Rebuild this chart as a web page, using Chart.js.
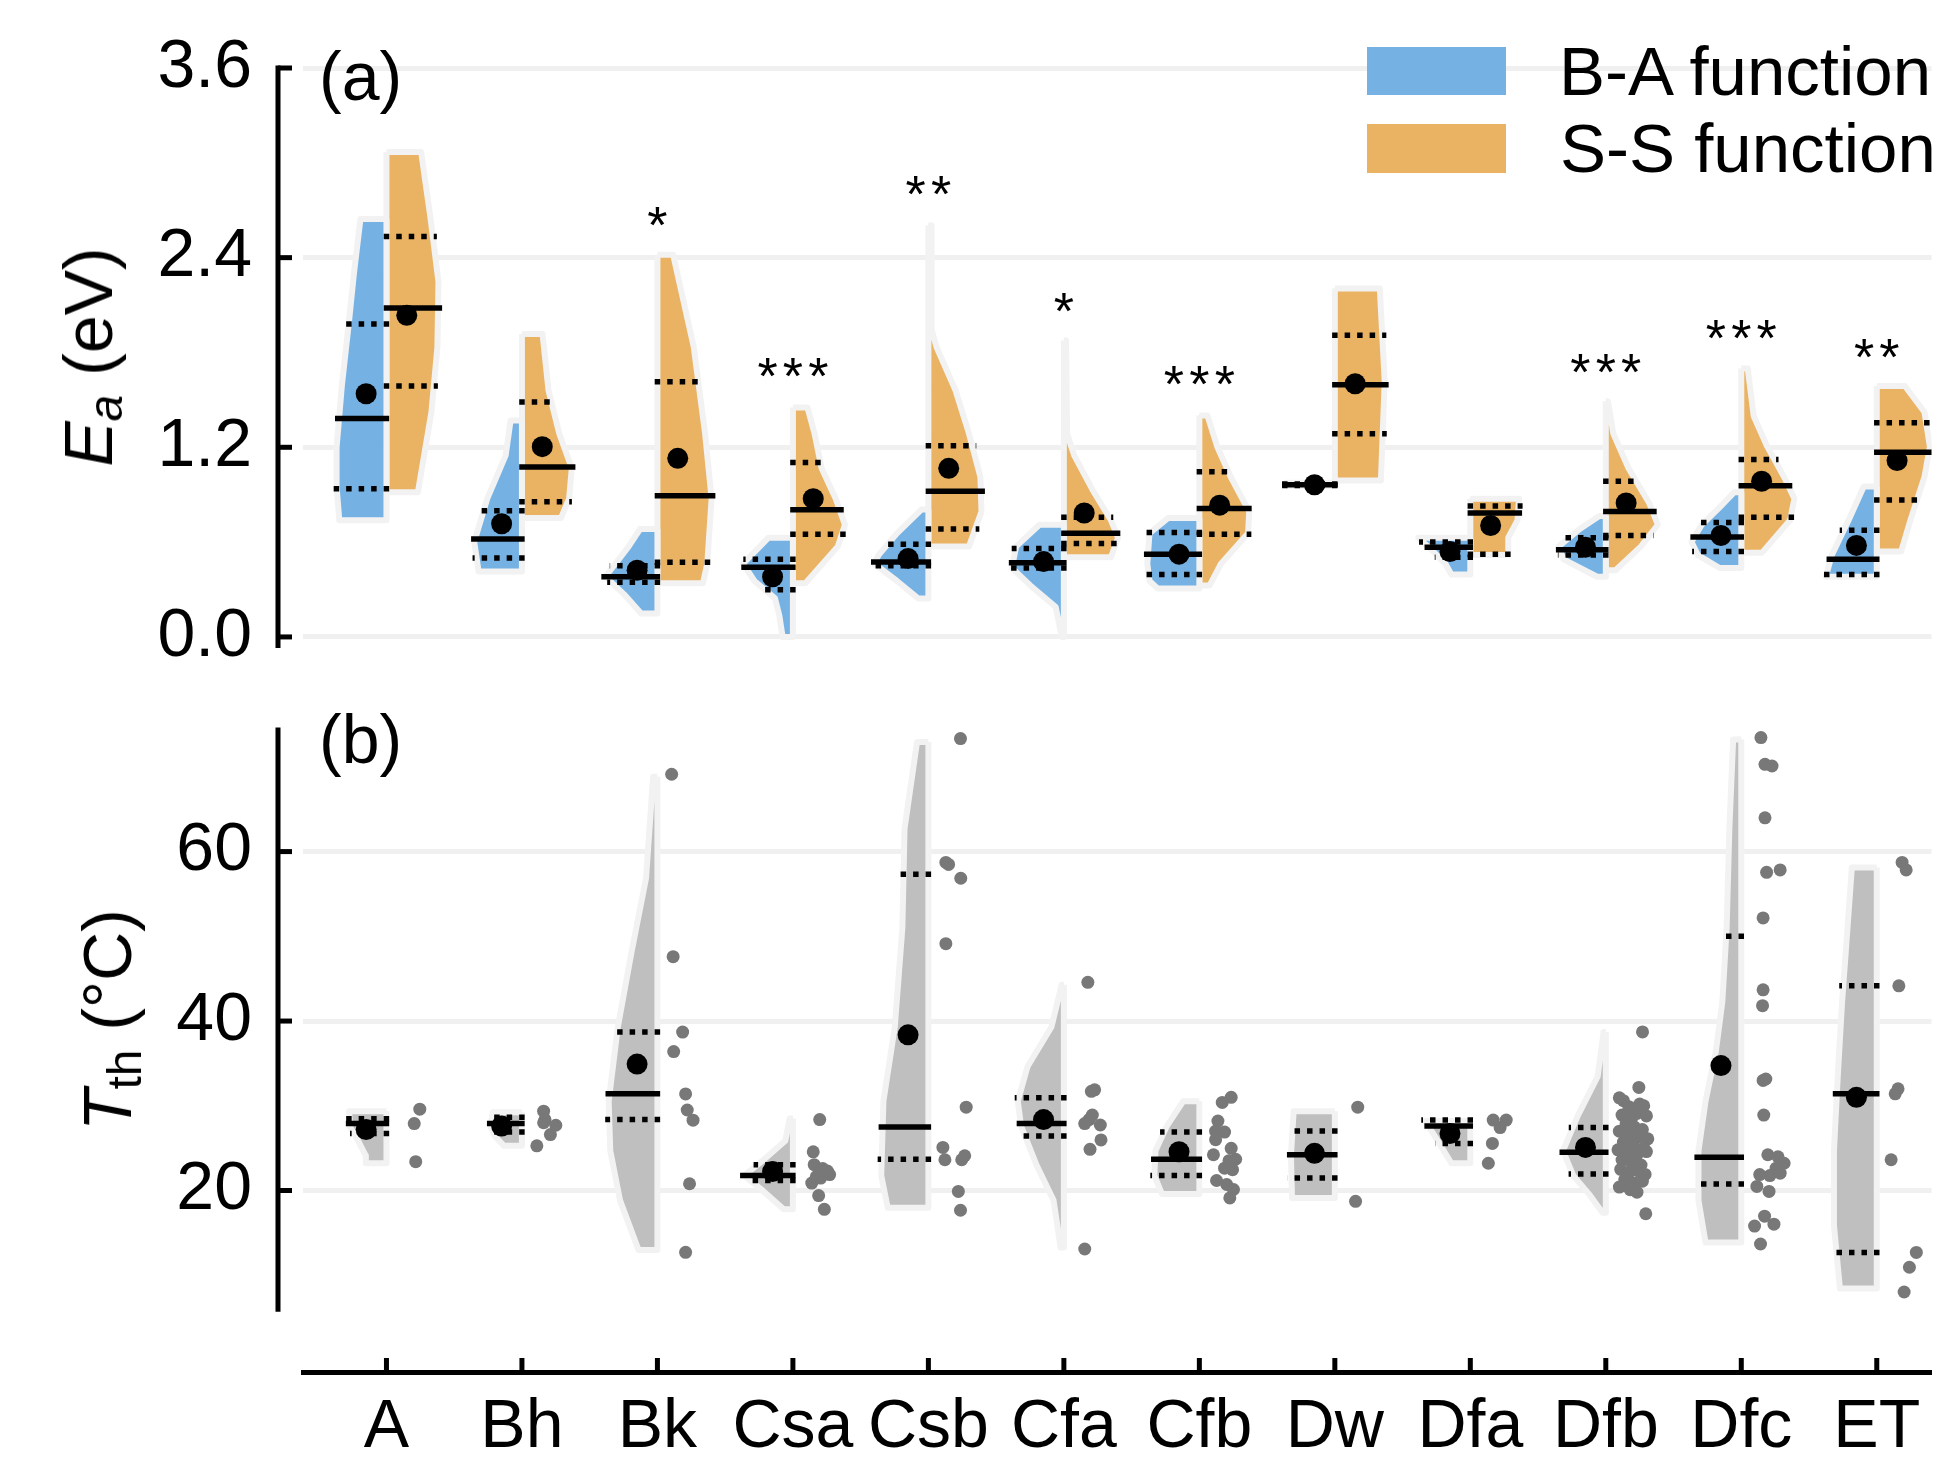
<!DOCTYPE html>
<html>
<head>
<meta charset="utf-8">
<script src="https://cdn.jsdelivr.net/npm/chart.js@4.4.0/dist/chart.umd.min.js"></script>
<style>
html, body { margin: 0; padding: 0; background: #fff; }
#wrap { position: relative; width: 1942px; height: 1457px; overflow: hidden; font-family: 'Liberation Sans', Arial, sans-serif; color: #000; }
canvas { position: absolute; left: 0; top: 0; }
.txt { position: absolute; font-size: 68px; line-height: 1; white-space: nowrap; }
.lg { font-size: 69px; }
.box { position: absolute; }
.ytitle { position: absolute; font-size: 68px; line-height: 1; white-space: nowrap; transform: translate(-50%, -50%) rotate(-90deg); }
.ytitle sub { font-size: 0.7em; vertical-align: baseline; position: relative; top: 0.2em; }
</style>
</head>
<body>
<div id="wrap">
	<canvas id="tth" width="1942" height="1457"></canvas>
	<canvas id="ea" width="1942" height="1457"></canvas>
	<div class="txt" style="left:319px;top:42px">(a)</div>
	<div class="txt" style="left:319px;top:705px">(b)</div>
	<div class="box" style="left:1367px;top:47px;width:139px;height:48px;background:#75b2e3"></div>
	<div class="box" style="left:1367px;top:124px;width:139px;height:49px;background:#eab363"></div>
	<div class="txt lg" style="left:1559px;top:37px">B-A function</div>
	<div class="txt lg" style="left:1560px;top:114px">S-S function</div>
	<div class="ytitle" style="left:88px;top:357px"><i>E</i><sub><i>a</i></sub> (eV)</div>
	<div class="ytitle" style="left:107px;top:1020px"><i>T</i><sub>th</sub> (°C)</div>
</div>
<script>
const categories = ['A', 'Bh', 'Bk', 'Csa', 'Csb', 'Cfa', 'Cfb', 'Dw', 'Dfa', 'Dfb', 'Dfc', 'ET'];
const eaTicks = [0, 1.2, 2.4, 3.6];
const tthTicks = [20, 40, 60];

// (a) B-A function, half violins: [value, relative width]
const baProfiles = [
	[[2.644, 0.48], [2.30, 0.60], [2.00, 0.69], [1.60, 0.82], [1.20, 0.92], [0.95, 0.92], [0.738, 0.87]],
	[[1.369, 0.21], [1.149, 0.30], [0.875, 0.64], [0.601, 0.88], [0.414, 0.80]],
	[[0.683, 0.32], [0.573, 0.53], [0.381, 0.96], [0.271, 0.62], [0.148, 0.30]],
	[[0.628, 0.45], [0.463, 0.92], [0.354, 0.71], [0.244, 0.33], [0.134, 0.25], [0.0, 0.19]],
	[[0.806, 0.13], [0.655, 0.58], [0.518, 0.92], [0.463, 1.0], [0.354, 0.58], [0.244, 0.19]],
	[[0.710, 0.45], [0.573, 0.88], [0.436, 0.96], [0.326, 0.62], [0.189, 0.15], [0.0, 0.04]],
	[[0.752, 0.58], [0.656, 0.92], [0.463, 0.96], [0.354, 0.92], [0.307, 0.77]],
	[[0.975, 0.9], [0.955, 0.9]],
	[[0.628, 0.96], [0.546, 0.70], [0.463, 0.46], [0.395, 0.35]],
	[[0.765, 0.12], [0.683, 0.48], [0.573, 0.87], [0.491, 0.78], [0.381, 0.16]],
	[[0.916, 0.13], [0.820, 0.40], [0.710, 0.73], [0.601, 0.92], [0.518, 0.80], [0.436, 0.40]],
	[[0.952, 0.24], [0.738, 0.52], [0.518, 0.83], [0.381, 0.94]]
];
const baMedian = [1.382, 0.620, 0.381, 0.441, 0.474, 0.469, 0.524, 0.963, 0.568, 0.551, 0.633, 0.491];
const baQ3 = [1.98, 0.798, 0.45, 0.491, 0.587, 0.560, 0.661, 0.968, 0.60, 0.628, 0.724, 0.675];
const baQ1 = [0.938, 0.499, 0.346, 0.299, 0.45, 0.436, 0.395, 0.958, 0.505, 0.518, 0.540, 0.395];
const baMean = [1.539, 0.716, 0.422, 0.381, 0.496, 0.477, 0.524, 0.963, 0.540, 0.568, 0.642, 0.579];

// (a) S-S function
const ssProfiles = [
	[[3.069, 0.64], [2.658, 0.81], [2.246, 0.96], [1.835, 0.94], [1.423, 0.83], [0.916, 0.58]],
	[[1.917, 0.38], [1.561, 0.49], [1.286, 0.69], [1.067, 0.92], [0.875, 0.87], [0.752, 0.72]],
	[[2.419, 0.29], [1.835, 0.67], [1.286, 0.88], [0.875, 1.0], [0.463, 0.92], [0.340, 0.84]],
	[[1.451, 0.27], [1.286, 0.40], [1.067, 0.53], [0.875, 0.79], [0.710, 0.96], [0.573, 0.83], [0.340, 0.23]],
	[[2.603, 0.05], [1.945, 0.06], [1.835, 0.15], [1.561, 0.50], [1.286, 0.75], [1.012, 0.96], [0.793, 0.98], [0.573, 0.75]],
	[[1.876, 0.04], [1.286, 0.06], [1.149, 0.19], [0.930, 0.53], [0.738, 0.87], [0.628, 1.0], [0.505, 0.87]],
	[[1.401, 0.15], [1.204, 0.33], [1.012, 0.58], [0.793, 0.92], [0.656, 0.90], [0.463, 0.40], [0.326, 0.19]],
	[[2.205, 0.83], [1.615, 0.92], [0.990, 0.85]],
	[[0.875, 0.90], [0.738, 0.87], [0.628, 0.70], [0.518, 0.70]],
	[[1.492, 0.04], [1.286, 0.14], [1.067, 0.42], [0.848, 0.80], [0.710, 0.96], [0.573, 0.65], [0.422, 0.18]],
	[[1.698, 0.12], [1.396, 0.23], [1.204, 0.48], [1.012, 0.79], [0.875, 0.98], [0.738, 0.90], [0.532, 0.38]],
	[[1.588, 0.52], [1.423, 0.88], [1.204, 0.98], [1.012, 0.88], [0.738, 0.62], [0.540, 0.45]]
];
const ssMedian = [2.082, 1.075, 0.894, 0.804, 0.922, 0.656, 0.812, 1.596, 0.784, 0.793, 0.957, 1.168];
const ssQ3 = [2.534, 1.487, 1.615, 1.103, 1.209, 0.757, 1.045, 1.909, 0.828, 0.985, 1.122, 1.355];
const ssQ1 = [1.588, 0.856, 0.472, 0.650, 0.683, 0.592, 0.650, 1.286, 0.524, 0.642, 0.757, 0.867];
const ssMean = [2.035, 1.204, 1.130, 0.875, 1.067, 0.784, 0.834, 1.602, 0.705, 0.848, 0.985, 1.116];

const starText = ['', '', '*', '***', '**', '*', '***', '', '', '***', '***', '**'];
const starLevel = [0, 0, 2.685, 1.727, 2.878, 2.138, 1.679, 0, 0, 1.752, 1.967, 1.849];

// (b) threshold temperature
const tthProfiles = [
	[[29.36, 0.69], [27.5, 0.67], [26.44, 0.57], [24.1, 0.38], [23.22, 0.38]],
	[[29.25, 0.54], [27.5, 0.58], [26.4, 0.50], [25.27, 0.33]],
	[[68.84, 0.08], [56.85, 0.21], [48.08, 0.48], [39.3, 0.73], [30.53, 0.90], [24.68, 0.87], [18.84, 0.69], [12.99, 0.35]],
	[[28.49, 0.06], [25.86, 0.14], [23.52, 0.56], [21.76, 0.90], [20.01, 0.56], [17.78, 0.17]],
	[[72.93, 0.21], [62.70, 0.44], [51.0, 0.48], [39.3, 0.62], [30.53, 0.83], [21.76, 0.87], [17.96, 0.75]],
	[[44.28, 0.04], [39.3, 0.23], [34.63, 0.67], [30.53, 0.85], [27.61, 0.79], [22.93, 0.50], [18.84, 0.19], [13.28, 0.06]],
	[[30.53, 0.30], [27.61, 0.60], [24.68, 0.81], [21.76, 0.83], [19.6, 0.69]],
	[[29.36, 0.76], [24.1, 0.81], [19.13, 0.79]],
	[[28.19, 0.83], [25.86, 0.60], [23.22, 0.35]],
	[[38.72, 0.04], [33.46, 0.15], [28.78, 0.52], [24.68, 0.79], [21.76, 0.60], [19.42, 0.29], [17.37, 0.06]],
	[[73.22, 0.15], [62.7, 0.22], [51.0, 0.27], [42.23, 0.35], [36.38, 0.47], [30.53, 0.66], [24.68, 0.79], [18.84, 0.79], [13.87, 0.66]],
	[[58.13, 0.46], [51.0, 0.54], [42.23, 0.64], [33.46, 0.72], [24.68, 0.79], [15.91, 0.79], [8.43, 0.68]]
];
const tthMedian = [27.9, 27.9, 31.41, 21.76, 27.49, 27.9, 23.69, 24.22, 27.61, 24.51, 23.93, 31.41];
const tthQ3 = [28.48, 28.66, 38.72, 23.05, 57.32, 30.94, 26.91, 27.02, 28.31, 27.43, 50.01, 44.16];
const tthQ1 = [26.73, 26.91, 28.37, 21.18, 23.69, 26.44, 21.76, 21.47, 25.56, 21.94, 20.77, 12.69];
const tthMean = [27.2, 27.6, 34.92, 22.23, 38.37, 28.37, 24.57, 24.39, 26.73, 25.09, 34.74, 31.0];

// strip points: [jitter right of the category, value]
const tthPoints = [
	[[0.246, 29.6], [0.205, 27.9], [0.216, 23.4]],
	[[0.16, 29.36], [0.17, 28.37], [0.16, 28.0], [0.25, 27.7], [0.21, 26.6], [0.11, 25.27]],
	[[0.105, 69.13], [0.116, 47.6], [0.186, 38.7], [0.12, 36.4], [0.208, 31.4], [0.22, 29.5], [0.263, 28.3], [0.237, 20.8], [0.208, 12.7]],
	[[0.198, 28.37], [0.15, 24.57], [0.157, 23.05], [0.22, 22.6], [0.271, 21.88], [0.173, 21.64], [0.139, 20.88], [0.19, 19.4], [0.232, 17.78], [0.255, 22.3], [0.205, 21.47]],
	[[0.237, 73.34], [0.129, 58.72], [0.149, 58.49], [0.239, 56.85], [0.129, 49.13], [0.279, 29.83], [0.107, 25.09], [0.122, 23.63], [0.246, 23.63], [0.268, 24.1], [0.221, 19.89], [0.237, 17.67]],
	[[0.177, 44.57], [0.203, 31.7], [0.227, 31.88], [0.186, 28.37], [0.21, 28.9], [0.154, 27.9], [0.269, 27.73], [0.274, 25.97], [0.193, 24.86], [0.154, 13.1]],
	[[0.169, 30.4], [0.235, 31.0], [0.137, 28.2], [0.12, 27.0], [0.186, 26.9], [0.12, 26.0], [0.235, 24.98], [0.268, 23.69], [0.219, 23.52], [0.245, 22.46], [0.127, 21.18], [0.202, 20.71], [0.252, 20.12], [0.225, 19.13], [0.186, 22.64], [0.104, 24.22]],
	[[0.169, 29.83], [0.153, 18.72]],
	[[0.169, 28.31], [0.265, 28.31], [0.22, 27.43], [0.163, 25.56], [0.133, 23.22]],
	[[0.271, 38.72], [0.295, 17.26], [0.10, 30.94], [0.244, 32.17], [0.13, 30.6], [0.17, 29.9], [0.25, 30.2], [0.28, 30.0], [0.12, 28.9], [0.19, 28.5],
	 [0.23, 29.1], [0.30, 28.8], [0.15, 27.9], [0.21, 27.5], [0.27, 27.2], [0.10, 27.0], [0.18, 26.6], [0.24, 26.3], [0.31, 26.1], [0.13, 25.7],
	 [0.20, 25.4], [0.28, 25.0], [0.09, 24.8], [0.16, 24.4], [0.23, 24.2], [0.30, 24.6], [0.12, 23.6], [0.19, 23.3], [0.26, 23.0], [0.11, 22.5],
	 [0.17, 22.1], [0.24, 22.3], [0.29, 21.9], [0.14, 21.3], [0.21, 20.9], [0.27, 21.1], [0.10, 20.4], [0.18, 20.1], [0.23, 19.8]],
	[[0.145, 73.46], [0.175, 70.3], [0.227, 70.1], [0.175, 63.98], [0.187, 57.55], [0.287, 57.84], [0.161, 52.17], [0.161, 43.69], [0.157, 41.82], [0.161, 32.99],
	 [0.181, 33.16], [0.166, 28.9], [0.196, 24.22], [0.271, 23.98], [0.316, 23.22], [0.257, 22.64], [0.136, 21.88], [0.211, 21.76], [0.287, 22.05], [0.115, 20.48],
	 [0.205, 19.89], [0.172, 16.97], [0.098, 15.8], [0.241, 16.03], [0.142, 13.69]],
	[[0.187, 58.72], [0.217, 57.84], [0.163, 44.16], [0.157, 32.0], [0.136, 31.41], [0.106, 23.63], [0.292, 12.69], [0.241, 10.94], [0.202, 8.02]]
];

const BLUE = '#75b2e3';
const ORANGE = '#eab363';
const GRAY = '#bfbfbf';
const EDGE = '#f2f2f2';
const X_MIN = -0.616;
const X_MAX = 11.404;
const SLOT = 0.4; // widest half violin, in category units

Chart.defaults.font.family = "'Liberation Sans', Arial, sans-serif";
Chart.defaults.color = '#000';

function widthAt(profile, v)
{
	if (v >= profile[0][0]) return profile[0][1];
	for (let k = 0; k < profile.length - 1; k++) {
		const [v0, w0] = profile[k];
		const [v1, w1] = profile[k + 1];
		if (v <= v0 && v >= v1) {
			const t = v0 === v1 ? 0 : (v0 - v) / (v0 - v1);
			return w0 + (w1 - w0) * t;
		}
	}
	return profile[profile.length - 1][1];
}

function halfViolin(i, profile, side)
{
	const top = profile[0][0];
	const bottom = profile[profile.length - 1][0];
	const pts = [{x: i, y: top}];
	profile.forEach(([v, w]) => pts.push({x: i + side * w * SLOT, y: v}));
	pts.push({x: i, y: bottom});
	pts.push({x: i, y: top});
	return pts;
}

function statLine(i, profile, v, side)
{
	const w = widthAt(profile, v) * SLOT;
	return [{x: i - side * 0.02, y: v}, {x: i + side * (w + 0.03), y: v}];
}

function violinSets(profiles, medians, q1s, q3s, means, side, color)
{
	const sets = [];
	profiles.forEach((p, i) => {
		sets.push({
			type: 'line', data: halfViolin(i, p, side), backgroundColor: color,
			borderColor: EDGE, borderWidth: 6, borderJoinStyle: 'round', fill: 'shape',
			pointRadius: 0, order: 3
		});
		sets.push({
			type: 'line', data: statLine(i, p, medians[i], side), borderColor: '#000',
			borderWidth: 5.5, fill: false, pointRadius: 0, order: 2
		});
		[q1s[i], q3s[i]].forEach(q => {
			sets.push({
				type: 'line', data: statLine(i, p, q, side), borderColor: '#000',
				borderWidth: 5.5, borderDash: [5.5, 7], fill: false, pointRadius: 0, order: 2
			});
		});
	});
	sets.push({
		type: 'scatter', data: means.map((m, i) => ({x: i + side * 0.15, y: m})),
		pointRadius: 10.5, backgroundColor: '#000', borderWidth: 0, order: 1
	});
	return sets;
}

// y axis drawn a little left of the plot, ticks pointing inward
const offsetAxis = {
	id: 'offsetAxis',
	afterDraw (chart, args, opts)
	{
		const {ctx, chartArea} = chart;
		const x = chart.scales.x;
		const y = chart.scales.y;
		const ax = chartArea.left - opts.gap;
		ctx.save();
		ctx.strokeStyle = '#000';
		ctx.lineWidth = 5;
		ctx.beginPath();
		ctx.moveTo(ax, y.getPixelForValue(opts.from) - 2.5);
		ctx.lineTo(ax, y.getPixelForValue(opts.to));
		ctx.stroke();
		y.ticks.forEach(t => {
			const py = y.getPixelForValue(t.value);
			ctx.beginPath();
			ctx.moveTo(ax, py);
			ctx.lineTo(ax + 14, py);
			ctx.stroke();
		});
		if (opts.xTicks) {
			x.ticks.forEach(t => {
				const px = x.getPixelForValue(t.value);
				ctx.beginPath();
				ctx.moveTo(px, chartArea.bottom);
				ctx.lineTo(px, chartArea.bottom - 14);
				ctx.stroke();
			});
		}
		ctx.restore();
	}
};

const stars = {
	id: 'stars',
	afterDatasetsDraw (chart)
	{
		const {ctx} = chart;
		const x = chart.scales.x;
		const y = chart.scales.y;
		const step = 25.4;
		ctx.save();
		ctx.font = "52px 'Liberation Sans', Arial, sans-serif";
		ctx.fillStyle = '#000';
		ctx.textAlign = 'center';
		ctx.textBaseline = 'alphabetic';
		starText.forEach((s, i) => {
			const n = s.length;
			const cx = x.getPixelForValue(i);
			const cy = y.getPixelForValue(starLevel[i]) + 30;
			for (let k = 0; k < n; k++) {
				ctx.fillText('*', cx + (k - (n - 1) / 2) * step, cy);
			}
		});
		ctx.restore();
	}
};

// tick marks are invisible, they only push the labels to the left
const yGrid = {color: '#f0f0f0', lineWidth: 5, drawTicks: true, tickLength: 46, tickColor: 'rgba(0,0,0,0)'};

new Chart(document.getElementById('ea'), {
	type: 'scatter',
	data: {
		datasets: [
			...violinSets(baProfiles, baMedian, baQ1, baQ3, baMean, -1, BLUE),
			...violinSets(ssProfiles, ssMedian, ssQ1, ssQ3, ssMean, 1, ORANGE)
		]
	},
	options: {
		responsive: false,
		animation: false,
		devicePixelRatio: 1,
		events: [],
		layout: {padding: {top: 68, bottom: 809, left: 0, right: 0}},
		plugins: {
			legend: {display: false},
			tooltip: {enabled: false},
			offsetAxis: {from: 3.6, to: -0.07, gap: 25}
		},
		scales: {
			x: {type: 'linear', min: X_MIN, max: X_MAX, display: false},
			y: {
				type: 'linear', min: -0.07, max: 3.6,
				afterFit: s => { s.width = 303; },
				afterBuildTicks: s => { s.ticks = eaTicks.map(v => ({value: v})); },
				ticks: {callback: v => v.toFixed(1), font: {size: 68}, color: '#000', padding: 5},
				grid: yGrid,
				border: {display: false}
			}
		}
	},
	plugins: [offsetAxis, stars]
});

const pointSet = {
	type: 'scatter',
	data: tthPoints.flatMap((pts, i) => pts.map(([j, v]) => ({x: i + j, y: v}))),
	pointRadius: 6.5, backgroundColor: '#787878', borderWidth: 0, order: 1
};

new Chart(document.getElementById('tth'), {
	type: 'scatter',
	data: {
		datasets: [
			pointSet,
			...violinSets(tthProfiles, tthMedian, tthQ1, tthQ3, tthMean, -1, GRAY)
		]
	},
	options: {
		responsive: false,
		animation: false,
		devicePixelRatio: 1,
		events: [],
		layout: {padding: {top: 730, bottom: 0, left: 0, right: 0}},
		plugins: {
			legend: {display: false},
			tooltip: {enabled: false},
			offsetAxis: {from: 74.35, to: 5.7, gap: 25, xTicks: true}
		},
		scales: {
			x: {
				type: 'linear', min: X_MIN, max: X_MAX,
				afterBuildTicks: s => { s.ticks = categories.map((c, i) => ({value: i})); },
				afterFit: s => { s.height = 85; },
				ticks: {callback: v => categories[v], font: {size: 68}, color: '#000', padding: 15, autoSkip: false, maxRotation: 0},
				grid: {display: false, drawTicks: false},
				border: {display: true, color: '#000', width: 5}
			},
			y: {
				type: 'linear', min: -1.42, max: 74.35,
				afterFit: s => { s.width = 303; },
				afterBuildTicks: s => { s.ticks = tthTicks.map(v => ({value: v})); },
				ticks: {callback: v => String(v), font: {size: 68}, color: '#000', padding: 5},
				grid: yGrid,
				border: {display: false}
			}
		}
	},
	plugins: [offsetAxis]
});
</script>
</body>
</html>
